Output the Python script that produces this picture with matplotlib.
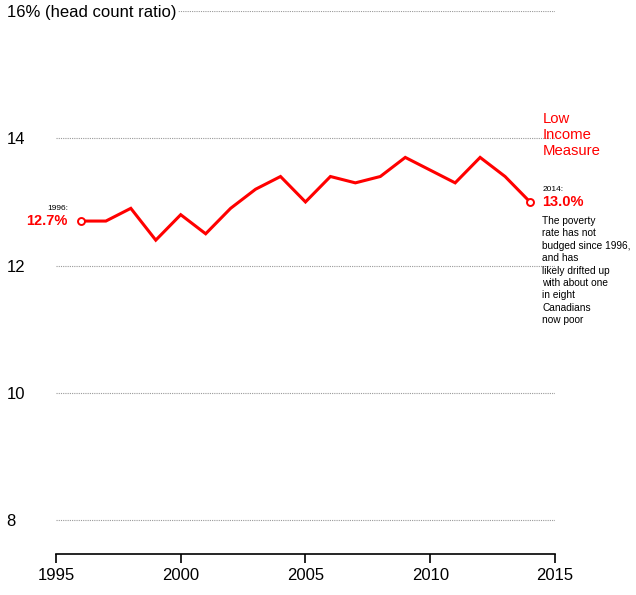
import matplotlib.pyplot as plt

# data
years = list(range(1996, 2015))
lim_rate = [12.7, 12.7, 12.9, 12.4, 12.8, 12.5, 12.9, 13.2, 13.4, 13.0,
            13.4, 13.3, 13.4, 13.7, 13.5, 13.3, 13.7, 13.4, 13.0]
x_ticks = [1995, 2000, 2005, 2010, 2015]
y_ticks = [8, 10, 12, 14, 16]
y_labels = ['8', '10', '12', '14', '16% (head count ratio)']

RED = '#ff0000'
plt.rcParams['font.family'] = ['Liberation Sans', 'DejaVu Sans']

fig = plt.figure(figsize=(6.36, 5.95), dpi=100)
ax = fig.add_axes([0.088, 0.069, 0.7846, 0.9125])

ax.plot(years, lim_rate, color=RED, lw=2.2, solid_joinstyle='miter', zorder=3)
ax.plot([years[0], years[-1]], [lim_rate[0], lim_rate[-1]], 'o', ms=5,
        mfc='white', mec=RED, mew=1.4, zorder=4)

ax.set_xlim(1995, 2015)
ax.set_ylim(7.47, 16)
ax.set_xticks(x_ticks)
ax.set_yticks(y_ticks)
ax.set_yticklabels(y_labels)

for s in ['top', 'right', 'left']:
    ax.spines[s].set_visible(False)
ax.spines['bottom'].set_linewidth(1.2)
ax.tick_params(axis='x', direction='out', length=6.2, width=1.2, labelsize=12, pad=4)
ax.tick_params(axis='y', length=0, labelsize=12, pad=35.5)
for lab in ax.get_yticklabels():
    lab.set_horizontalalignment('left')
ax.get_yticklabels()[-1].set_bbox(dict(facecolor='white', edgecolor='none', pad=1.5))

ax.yaxis.grid(True, color='#999999', linestyle=(0, (1, 1)), linewidth=0.8)
ax.set_axisbelow(True)

# left annotation
ax.text(1995.48, 12.9, '1996:', fontsize=6, ha='right', va='center', clip_on=False)
ax.text(1995.48, 12.7, '12.7%', fontsize=10.5, fontweight='bold', color=RED,
        ha='right', va='center', clip_on=False)

# right annotations
ax.text(2014.5, 14.42, 'Low\nIncome\nMeasure', fontsize=10.7, color=RED,
        ha='left', va='top', linespacing=1.2, clip_on=False)
ax.text(2014.5, 13.2, '2014:', fontsize=6, ha='left', va='center', clip_on=False)
ax.text(2014.5, 13.0, '13.0%', fontsize=10.5, fontweight='bold', color=RED,
        ha='left', va='center', clip_on=False)
ax.text(2014.5, 12.78,
        'The poverty\nrate has not\nbudged since 1996,\nand has\nlikely drifted up\n'
        'with about one\nin eight\nCanadians\nnow poor',
        fontsize=7.3, ha='left', va='top', linespacing=1.3, clip_on=False)

fig.savefig('out.png', dpi=100)
